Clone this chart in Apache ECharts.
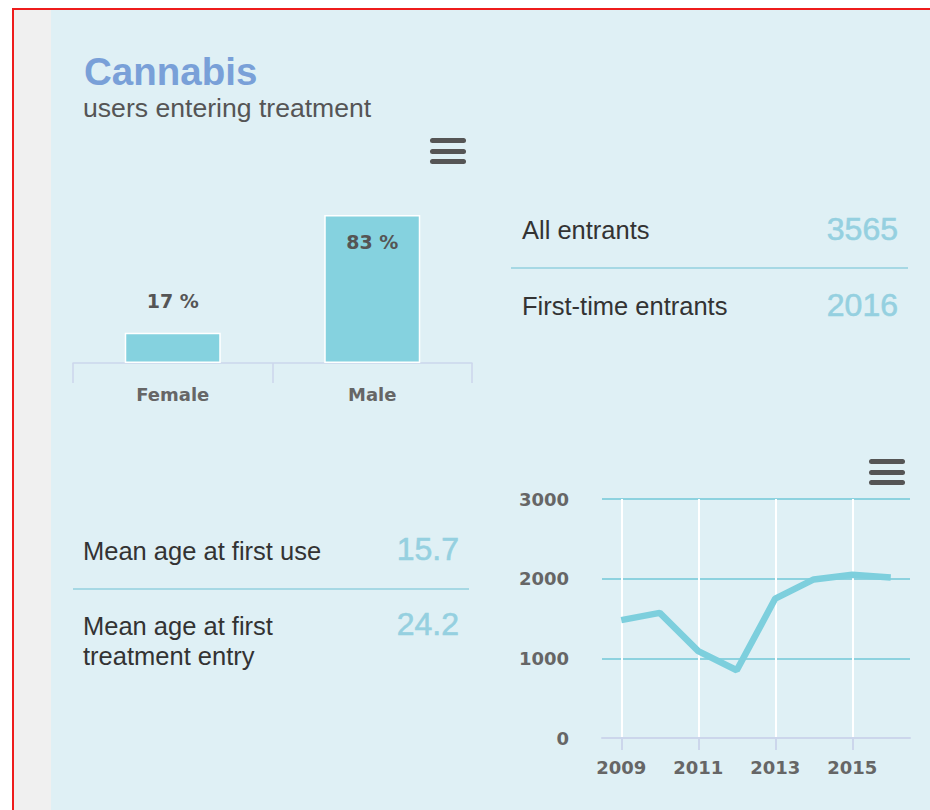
<!DOCTYPE html>
<html>
<head>
<meta charset="utf-8">
<script src="https://cdn.jsdelivr.net/npm/echarts@6/dist/echarts.min.js"></script>
<style>
  html, body { margin:0; padding:0; width:930px; height:810px; overflow:hidden; background:#ffffff; }
  #frame { position:absolute; left:12px; top:8px; width:930px; height:820px; border-left:2px solid #ee1c1c; border-top:2px solid #ee1c1c; }
  #strip { position:absolute; left:14px; top:10px; width:37px; height:800px; background:#f0f0f0; }
  #panel { position:absolute; left:51px; top:10px; width:880px; height:800px; background:#dff0f5; }
  #chart { position:absolute; left:0; top:0; width:930px; height:810px; }
  .t { position:absolute; white-space:nowrap; font-family:"Liberation Sans", Arial, sans-serif; }
  .burger { position:absolute; width:36px; height:5px; border-radius:2.5px; background:#555555; }
  .rule { position:absolute; height:2px; background:#a6d8e4; }
</style>
</head>
<body>
<div id="frame"></div>
<div id="strip"></div>
<div id="panel"></div>
<div id="chart"></div>
<div id="texts"></div>
<script>
// ---- data ----
const titleText = 'Cannabis';
const subtitleText = 'users entering treatment';
const genderCats = ['Female', 'Male'];
const genderValues = [17, 83];
const statLabels = ['All entrants', 'First-time entrants'];
const statValues = ['3565', '2016'];
const ageLabels = ['Mean age at first use', 'Mean age at first<br>treatment entry'];
const ageValues = ['15.7', '24.2'];
const years = [2009, 2010, 2011, 2012, 2013, 2014, 2015, 2016];
const entrants = [1480, 1570, 1090, 850, 1750, 1990, 2050, 2016];
const yearTicks = [2009, 2011, 2013, 2015];
const countTicks = [0, 1000, 2000, 3000];

// ---- static texts (HTML) ----
const T = document.getElementById('texts');
function addText(html, css) {
  const d = document.createElement('div');
  d.className = 't';
  d.innerHTML = html;
  Object.assign(d.style, css);
  T.appendChild(d);
  return d;
}
function addDiv(cls, css) {
  const d = document.createElement('div');
  d.className = cls;
  Object.assign(d.style, css);
  T.appendChild(d);
}
addText(titleText, {left:'84px', top:'50px', lineHeight:'44px', fontSize:'38.5px', fontWeight:'bold', color:'#79a0d8'});
addText(subtitleText, {left:'83px', top:'93px', lineHeight:'30px', fontSize:'26.6px', color:'#555555'});

const labelCss = {fontSize:'25.5px', color:'#333333', lineHeight:'30px'};
const valueCss = {fontSize:'32px', color:'#95d0e0', lineHeight:'36px', textAlign:'right', webkitTextStroke:'0.6px #95d0e0'};
// upper right stats
const statY = [230, 306];
statLabels.forEach((s, i) => {
  addText(s, Object.assign({left:'522px', top:(statY[i]-15)+'px'}, labelCss));
  addText(statValues[i], Object.assign({right:(930-898)+'px', top:(statY[i]-19)+'px'}, valueCss));
});
addDiv('rule', {left:'511px', top:'267px', width:'397px'});
// lower left stats
const ageY = [551, 626];
ageLabels.forEach((s, i) => {
  addText(s, Object.assign({left:'83px', top:(ageY[i]-15)+'px'}, labelCss));
  addText(ageValues[i], Object.assign({right:(930-459)+'px', top:(ageY[i]-20)+'px'}, valueCss));
});
addDiv('rule', {left:'73px', top:'588px', width:'396px'});

// export-menu icons
[[430, 138], [869, 459]].forEach(([x, y]) => {
  for (let k = 0; k < 3; k++) addDiv('burger', {left:x+'px', top:(y + k*10.5)+'px'});
});

// ---- charts ----
const axisFont = {fontFamily:'"DejaVu Sans", sans-serif', fontWeight:'bold', fontSize:18, color:'#666666'};
const chart = echarts.init(document.getElementById('chart'), null, {renderer:'svg'});
chart.setOption({
  animation:false,
  grid:[
    {left:73, width:399, top:215, height:148},
    {left:602, width:308, top:499, height:239}
  ],
  xAxis:[
    {
      gridIndex:0, type:'category', data:genderCats,
      axisLine:{lineStyle:{color:'#ccd6eb', width:1.5}},
      axisTick:{show:true, length:20, lineStyle:{color:'#ccd6eb', width:1.5}},
      axisLabel:Object.assign({margin:22}, axisFont),
      splitLine:{show:false}
    },
    {
      gridIndex:1, type:'value', min:2008.5, max:2016.5,
      axisLine:{show:true, lineStyle:{color:'#ccd6eb', width:2}},
      axisTick:{show:true, customValues:yearTicks, length:12, lineStyle:{color:'#ccd6eb', width:2}},
      axisLabel:Object.assign({margin:20, customValues:yearTicks, formatter:v => String(v)}, axisFont),
      splitLine:{show:true, lineStyle:{color:'#ffffff', width:2}}
    }
  ],
  yAxis:[
    {gridIndex:0, type:'value', min:0, max:'dataMax', show:false},
    {
      gridIndex:1, type:'value', min:0, max:3000, interval:1000,
      axisLine:{show:false}, axisTick:{show:false},
      axisLabel:Object.assign({margin:33, formatter:v => String(v)}, axisFont),
      splitLine:{lineStyle:{color:'#8dd2df', width:2}}
    }
  ],
  series:[
    {
      type:'bar', xAxisIndex:0, yAxisIndex:0, barWidth:96,
      itemStyle:{color:'#85d2df', borderColor:'#ffffff', borderWidth:1.5},
      label:{show:true, formatter:'{c} %', fontFamily:'"DejaVu Sans", sans-serif', fontWeight:'bold', fontSize:19, color:'#555555'},
      data:genderValues.map(v => ({value:v, label: v > 50 ? {position:'insideTop', distance:17} : {position:'top', distance:22}}))
    },
    {
      type:'line', xAxisIndex:1, yAxisIndex:1, symbol:'none',
      lineStyle:{color:'#7dcfdd', width:6.5},
      data:years.map((y, i) => [y, entrants[i]])
    }
  ]
});
</script>
</body>
</html>
